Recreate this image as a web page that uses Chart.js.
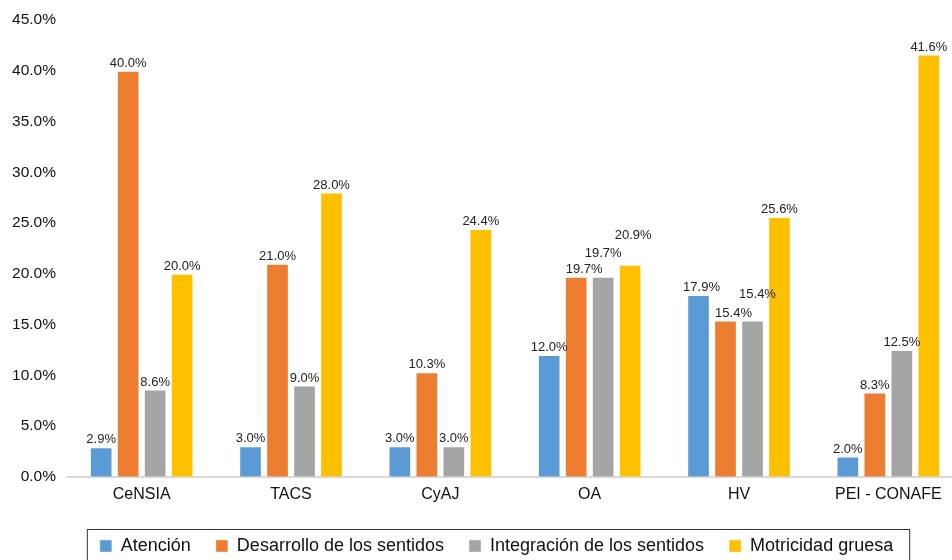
<!DOCTYPE html>
<html>
<head>
<meta charset="utf-8">
<script src="https://cdn.jsdelivr.net/npm/chart.js@4.4.1/dist/chart.umd.min.js"></script>
<style>
  html, body { margin: 0; padding: 0; background: #fff; overflow: hidden; }
  #wrap { width: 952px; height: 560px; overflow: hidden; }
</style>
</head>
<body>
<div id="wrap"><canvas id="chart" width="963" height="560"></canvas></div>
<script>
const categories = ['CeNSIA', 'TACS', 'CyAJ', 'OA', 'HV', 'PEI - CONAFE'];
const atencion = [2.9, 3.0, 3.0, 12.0, 17.9, 2.0];
const desarrollo = [40.0, 21.0, 10.3, 19.7, 15.4, 8.3];
const integracion = [8.6, 9.0, 3.0, 19.7, 15.4, 12.5];
const motricidad = [20.0, 28.0, 24.4, 20.9, 25.6, 41.6];
const seriesNames = ['Atención', 'Desarrollo de los sentidos', 'Integración de los sentidos', 'Motricidad gruesa'];
const colors = ['#5B9BD5', '#ED7D31', '#A5A5A5', '#FFC000'];

const FONT = '"Liberation Sans", Arial, Helvetica, sans-serif';

// a few labels get nudged so they don't collide with neighbours: "dataset-index": [dx, dy]
const labelNudge = {
  '1-3': [8, 0],
  '2-3': [0, -16],
  '3-3': [3, -22],
  '0-4': [3, 0],
  '1-4': [8, 0],
  '2-4': [5, -19]
};

const valueLabels = {
  id: 'valueLabels',
  afterDatasetsDraw(chart) {
    const ctx = chart.ctx;
    ctx.save();
    ctx.font = '13px ' + FONT;
    ctx.fillStyle = '#222';
    ctx.textAlign = 'center';
    ctx.textBaseline = 'bottom';
    chart.data.datasets.forEach((ds, di) => {
      chart.getDatasetMeta(di).data.forEach((bar, i) => {
        const n = labelNudge[di + '-' + i] || [0, 0];
        ctx.fillText(ds.data[i].toFixed(1) + '%', bar.x + n[0], bar.y - 1 + n[1]);
      });
    });
    ctx.restore();
  }
};

// legend sits a bit right of centre, inside a thin frame
const LEGEND_SHIFT = 15;
const legendFrame = {
  id: 'legendFrame',
  afterLayout(chart) {
    const lg = chart.legend;
    lg.left += LEGEND_SHIFT;
    lg.right += LEGEND_SHIFT;
    (lg.legendHitBoxes || []).forEach(b => { b.left += LEGEND_SHIFT; });
  },
  afterDraw(chart) {
    const boxes = chart.legend.legendHitBoxes;
    if (!boxes || !boxes.length) return;
    const left = Math.min(...boxes.map(b => b.left)) - 13;
    const right = Math.max(...boxes.map(b => b.left + b.width)) + 16;
    const top = boxes[0].top - 8;
    const ctx = chart.ctx;
    ctx.save();
    ctx.strokeStyle = '#333';
    ctx.lineWidth = 1;
    ctx.strokeRect(left + 0.5, top + 0.5, right - left, chart.height - top + 10);
    ctx.restore();
  }
};

new Chart(document.getElementById('chart'), {
  type: 'bar',
  data: {
    labels: categories,
    datasets: [atencion, desarrollo, integracion, motricidad].map((d, k) => ({
      label: seriesNames[k],
      data: d,
      backgroundColor: colors[k],
      borderColor: 'rgba(255,255,255,0.35)',
      borderWidth: 1,
      categoryPercentage: 0.723,
      barPercentage: 0.84
    }))
  },
  options: {
    responsive: false,
    animation: false,
    layout: { padding: { top: 20, right: 0, left: 0, bottom: -5 } },
    scales: {
      x: {
        grid: { display: false },
        border: { display: true, color: '#d9d9d9', width: 2 },
        afterFit: s => { s.height += 8; },
        ticks: { color: '#111', font: { family: FONT, size: 16 }, padding: 0 }
      },
      y: {
        min: 0,
        max: 45,
        grid: { display: false },
        border: { display: false },
        afterFit: s => { s.width = 67; },
        ticks: {
          stepSize: 5,
          color: '#111',
          padding: 3,
          font: { family: FONT, size: 15.5 },
          callback: v => v.toFixed(1) + '%'
        }
      }
    },
    plugins: {
      legend: {
        position: 'bottom',
        labels: {
          boxWidth: 12,
          boxHeight: 12,
          padding: 25,
          color: '#111',
          font: { family: FONT, size: 18 }
        }
      },
      tooltip: { enabled: false }
    }
  },
  plugins: [valueLabels, legendFrame]
});
</script>
</body>
</html>
